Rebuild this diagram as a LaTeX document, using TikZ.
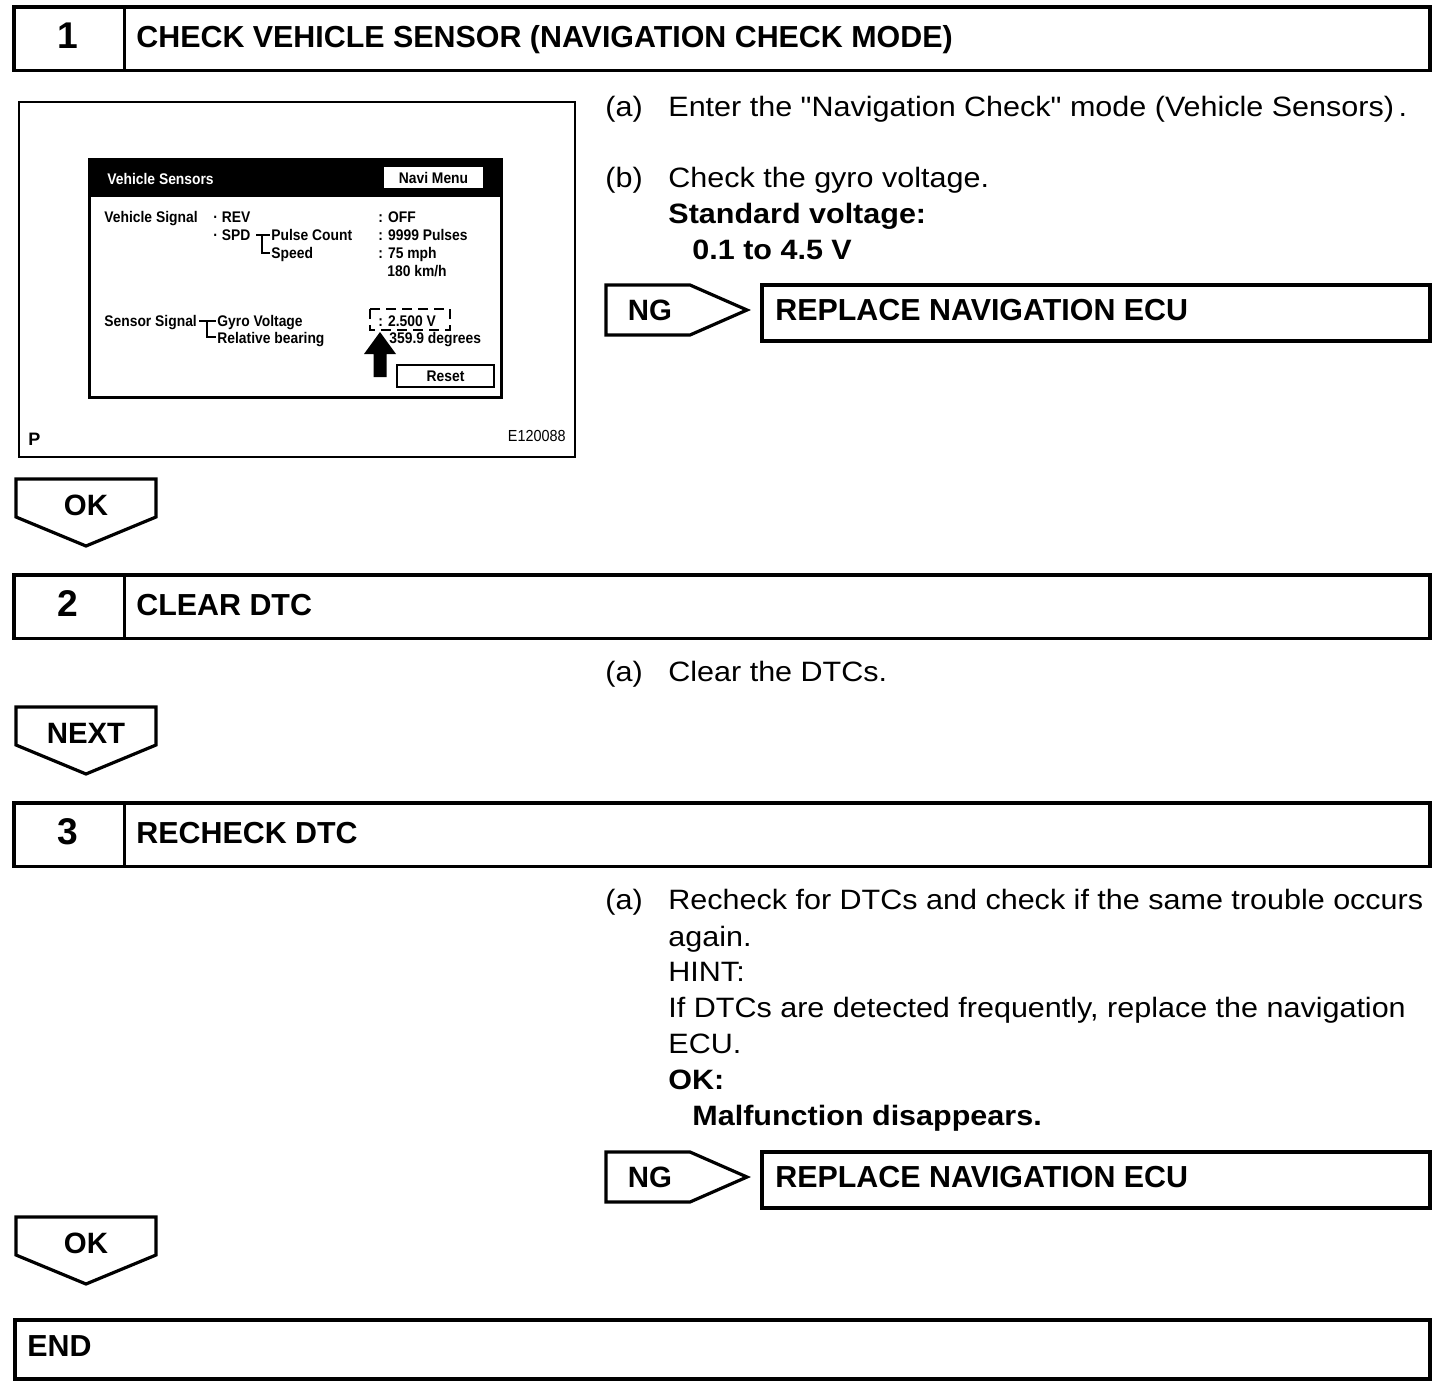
\documentclass[tikz,border=0pt]{standalone}
\usepackage{fontspec}
\setmainfont{Liberation Sans}
\newfontfamily\scrfont[FakeStretch=0.9]{Liberation Sans}
\newfontfamily\bodyfont[FakeStretch=1.09, Ligatures=TeXOff]{Liberation Sans}
\usetikzlibrary{positioning}
\tikzstyle{frame} = [line width=1.6pt]
\tikzstyle{title} = [anchor=base west, inner sep=0pt, font=\fontsize{15.2}{17}\selectfont\bfseries]
\tikzstyle{stepno} = [inner sep=0pt, font=\fontsize{18.6}{22}\selectfont\bfseries]
\tikzstyle{tag} = [inner sep=0pt, font=\fontsize{14.7}{17}\selectfont\bfseries]
\tikzstyle{body} = [anchor=base west, inner sep=0pt, font=\fontsize{14}{16}\selectfont\bodyfont]
\tikzstyle{bodyb} = [body, font=\fontsize{14}{16}\selectfont\bodyfont\bfseries]
\tikzstyle{scr} = [anchor=base west, inner sep=0pt, font=\fontsize{7.7}{9}\selectfont\scrfont\bfseries]

\begin{document}
\begin{tikzpicture}[x=0.5pt, y=-0.5pt]
  \useasboundingbox (0,0) rectangle (1456,1392);
  % step headers
  \foreach \y/\n/\t in {7/1/{CHECK VEHICLE SENSOR (NAVIGATION CHECK MODE)}, 575/2/{CLEAR DTC}, 803/3/{RECHECK DTC}} {
    \draw[frame] (14,\y) rectangle (1430,\y+63.5);
    \draw[frame] (124.5,\y) -- (124.5,\y+63.5);
    \node[stepno] (num\n) at (68,\y+29) {\n};
    \node[title] (title\n) at (136,\y+40.5) {\t};
  }
  \draw[frame] (15,1320) rectangle (1430,1379);
  \node[title] (endtxt) at (27,1356.5) {END};

  % OK / NEXT tags
  \foreach \y/\t/\n in {479/OK/ok1, 707/NEXT/next2, 1217/OK/ok3} {
    \draw[frame] (16,\y) -- (156,\y) -- (156,\y+38) -- (86,\y+67) -- (16,\y+38) -- cycle;
    \node[tag] (\n) at (86,\y+26.5) {\t};
  }

  % NG tags and repair boxes
  \foreach \y/\n in {310/1, 1177/3} {
    \draw[frame] (606,\y-25) -- (690,\y-25) -- (747,\y) -- (690,\y+25) -- (606,\y+25) -- cycle;
    \node[tag] (ng\n) at (650,\y) {NG};
    \draw[frame] (762,\y-25) rectangle (1430,\y+31);
    \node[title] (repl\n) at (775,\y+10.5) {REPLACE NAVIGATION ECU};
  }

  % screen picture
  \draw[line width=1pt] (19,102) rectangle (575,457);
  \draw[line width=1.5pt] (89,159) rectangle (501,397);
  \fill (89,159) rectangle (501,197);
  \node[scr, text=white] (vsens) at (107,184.5) {Vehicle Sensors};
  \node[scr, anchor=center, fill=white, minimum width=49.5pt, minimum height=10.5pt] (navi) at (433.5,177.5) {Navi Menu};
  \node[scr] (vsig) at (104,222.5) {Vehicle Signal};
  \node[scr] (rev) at (213,222.5) {· REV};
  \node[scr] (spd) at (213,240.5) {· SPD};
  \node[scr] (pulse) at (271,240.5) {Pulse Count};
  \node[scr] (speed) at (271,258.5) {Speed};
  \node[scr] (off) at (378,222.5) {: OFF};
  \node[scr] (pcount) at (378,240.5) {: 9999 Pulses};
  \node[scr] (mph) at (378,258.5) {: 75 mph};
  \node[scr] (kmh) at (387,276.5) {180 km/h};
  \node[scr] (ssig) at (104,326.5) {Sensor Signal};
  \node[scr] (gyro) at (217,326.5) {Gyro Voltage};
  \node[scr] (bear) at (217,343.5) {Relative bearing};
  \node[scr] (volt) at (378,326.5) {: 2.500 V};
  \node[scr] (deg) at (389,343.5) {359.9 degrees};
  \draw[line width=0.8pt] (256,235) -- (270,235) (262,235) -- (262,253) -- (270,253);
  \draw[line width=0.8pt] (199,321) -- (216,321) (207,321) -- (207,337) -- (216,337);
  \draw[line width=1.3pt, dash pattern=on 5pt off 3pt] (370,309) rectangle (450,330);
  \fill (380,332) -- (396,354) -- (386.5,354) -- (386.5,377) -- (373.5,377) -- (373.5,354) -- (364,354) -- cycle;
  \node[scr, anchor=center, draw, line width=1pt, minimum width=48.5pt, minimum height=11pt] (reset) at (445.5,376) {Reset};
  \node[anchor=base west, inner sep=0pt, font=\fontsize{9}{10}\selectfont\bfseries] (plabel) at (28,445) {P};
  \node[anchor=base east, inner sep=0pt, font=\fontsize{8}{9}\selectfont\scrfont] (fig) at (566,441) {E120088};

  % step 1 text
  \node[body] (a1) at (605,116) {(a)};
  \node[body] (a1t) at (668,116) {Enter the "Navigation Check" mode (Vehicle Sensors)\,.};
  \node[body] (b1) at (605,187) {(b)};
  \node[body] (b1t) at (668,187) {Check the gyro voltage.};
  \node[bodyb] (std) at (668,223) {Standard voltage:};
  \node[bodyb] (stdv) at (692,259) {0.1 to 4.5 V};

  % step 2 text
  \node[body] (a2) at (605,681) {(a)};
  \node[body] (a2t) at (668,681) {Clear the DTCs.};

  % step 3 text
  \node[body] (a3) at (605,909) {(a)};
  \node[body] (a3t) at (668,909) {Recheck for DTCs and check if the same trouble occurs};
  \node[body] (a3u) at (668,946) {again.};
  \node[body] (hint) at (668,981) {HINT:};
  \node[body] (hintt) at (668,1017) {If DTCs are detected frequently, replace the navigation};
  \node[body] (hintu) at (668,1053) {ECU.};
  \node[bodyb] (okl) at (668,1089) {OK:};
  \node[bodyb] (okv) at (692,1125) {Malfunction disappears.};
\end{tikzpicture}
\end{document}
